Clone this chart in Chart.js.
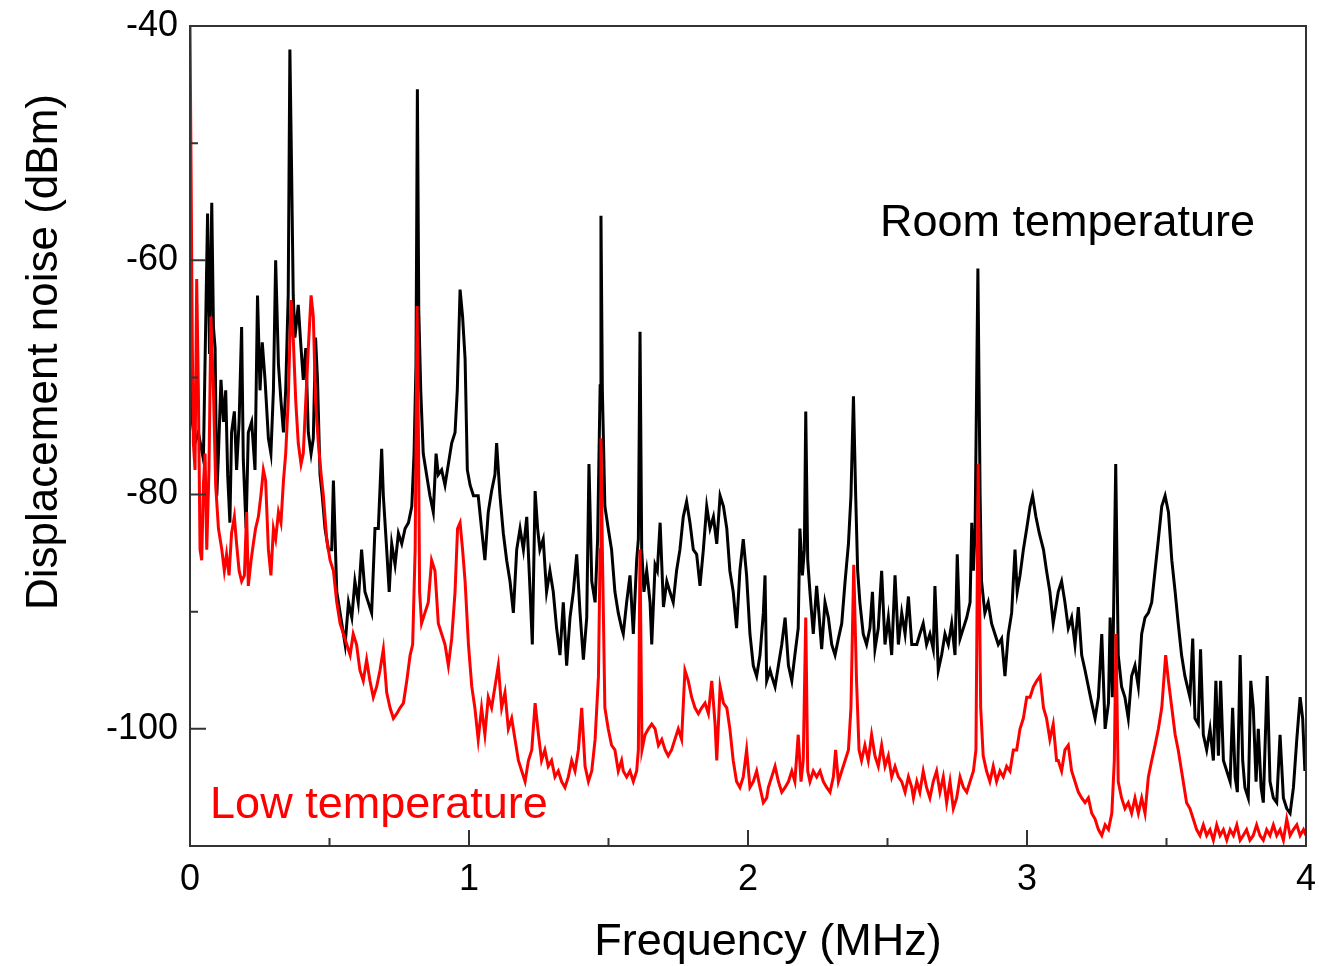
<!DOCTYPE html>
<html lang="en">
<head>
  <meta charset="UTF-8">
  <title>Displacement noise</title>
  <script src="https://cdn.jsdelivr.net/npm/chart.js"></script>
  <style>
    html, body { margin: 0; padding: 0; background: #fff; }
    #wrap { width: 1319px; height: 966px; }
  </style>
</head>
<body>
  <div id="wrap"><canvas id="noiseChart"></canvas></div>

  <script>
    // tick labels
    const xTicks = [0, 1, 2, 3, 4];
    const xMinorTicks = [0.5, 1.5, 2.5, 3.5];
    const yTicks = [-100, -80, -60, -40];
    const yMinorTicks = [-110, -90, -70, -50];

    // room temperature trace (MHz / dBm)
    const roomFreq = [
      0.000,0.006,0.018,0.030,0.048,0.063,0.070,0.078,0.084,0.090,0.096,0.102,0.111,0.120,0.128,0.135,0.143,0.149,0.159,0.167,
      0.176,0.185,0.191,0.201,0.209,0.221,0.233,0.242,0.251,0.259,0.269,0.281,0.290,0.299,0.307,0.317,0.326,0.335,0.343,0.352,
      0.358,0.364,0.370,0.376,0.388,0.398,0.406,0.415,0.424,0.434,0.442,0.450,0.457,0.466,0.474,0.484,0.496,
      0.508,0.514,0.526,0.544,0.556,0.568,0.580,0.591,0.603,0.615,0.627,0.639,0.651,0.663,0.675,0.687,0.693,0.705,0.714,0.723,
      0.735,0.747,0.759,0.771,0.783,0.795,0.803,0.810,0.815,0.820,0.827,0.836,0.848,0.860,0.872,0.882,0.890,0.902,0.914,0.926,
      0.938,0.950,0.958,0.968,0.977,0.986,0.994,1.004,1.016,
      1.033,1.045,1.057,1.069,1.081,1.093,1.099,1.111,1.123,1.135,1.147,1.159,1.171,1.183,1.195,1.207,1.219,1.227,1.237,1.246,
      1.254,1.266,1.278,1.290,1.302,1.314,1.326,1.338,1.350,1.362,1.374,1.386,1.398,1.410,1.422,1.430,1.440,1.452,1.461,1.470,
      1.473,1.478,1.487,1.499,1.511,1.523,1.535,1.547,
      1.553,1.565,1.577,1.589,1.601,1.607,1.613,1.619,1.627,1.637,1.649,1.655,1.667,1.675,1.685,1.697,1.709,1.720,1.732,1.744,
      1.756,1.768,1.780,1.792,1.804,1.816,1.828,1.840,1.852,1.864,1.876,1.888,1.900,1.912,1.924,1.935,1.947,1.959,1.971,1.983,
      1.995,2.007,2.019,2.031,2.043,2.055,2.061,2.067,
      2.079,2.085,2.097,2.109,2.121,2.133,2.145,2.157,2.168,2.180,2.186,2.195,2.202,2.207,2.214,2.222,2.234,2.246,2.254,2.264,
      2.276,2.288,2.300,2.312,2.324,2.336,2.348,2.360,2.369,2.378,2.386,2.393,2.401,2.413,2.425,2.437,2.446,2.455,2.467,2.479,
      2.491,2.503,2.515,2.527,2.539,2.551,2.563,2.575,2.587,
      2.605,2.616,2.628,2.640,2.652,2.664,2.670,2.682,2.694,2.706,2.718,2.730,2.742,2.750,2.760,2.772,2.784,2.796,2.802,2.808,
      2.814,2.824,2.832,2.837,2.849,2.861,2.873,2.885,2.897,2.909,2.921,2.933,2.945,2.957,2.965,2.975,2.987,2.999,3.011,3.020,
      3.032,3.044,3.059,3.070,3.082,3.094,3.106,
      3.112,3.124,3.136,3.148,3.160,3.172,3.184,3.196,3.208,3.220,3.232,3.244,3.256,3.268,3.280,3.292,3.298,3.306,3.318,3.327,
      3.339,3.351,3.363,3.375,3.387,3.399,3.411,3.423,3.435,3.447,3.459,3.471,3.483,3.495,3.507,3.519,3.531,3.542,3.554,
      3.566,3.584,3.594,3.602,3.614,3.622,3.632,3.644,3.656,3.668,3.677,3.686,3.694,3.704,3.716,3.728,3.737,3.746,3.754,3.764,
      3.773,3.781,3.793,3.802,3.811,3.821,3.829,3.839,3.847,3.861,3.871,3.883,3.895,3.907,3.919,3.931,3.943,3.955,3.967,3.979,
      3.988,3.996,4.000
    ];
    const roomTemp = [
      -58,-73.4,-75.6,-74.7,-77.0,-56.0,-68.0,-55.1,-65.7,-67.5,-80.1,-76.5,-70.2,-73.8,-71.1,-78.3,-82.4,-74.7,-72.9,-77.9,
      -73.8,-65.7,-77.0,-82.9,-74.7,-73.8,-77.9,-63.0,-71.1,-67.0,-70.2,-75.2,-76.5,-71.1,-60.0,-68.9,-72.0,-74.7,-71.1,-63.0,
      -42.0,-52.1,-63.0,-66.6,-63.8,-67.5,-70.2,-67.5,-74.7,-76.5,-75.2,-66.6,-70.2,-78.3,-80.1,-82.9,-84.7,
      -84.7,-78.8,-88.3,-91.0,-92.8,-89.2,-90.5,-87.4,-89.2,-84.7,-88.3,-89.2,-90.1,-82.9,-82.9,-76.1,-80.1,-84.7,-88.3,-84.2,
      -86.0,-83.3,-84.2,-82.9,-82.4,-81.0,-76.5,-68.9,-45.4,-64.3,-71.1,-76.5,-78.3,-80.1,-81.5,-76.5,-78.3,-77.9,-79.2,-77.4,
      -75.6,-74.7,-71.1,-62.5,-64.8,-68.4,-77.9,-79.2,-80.1,
      -80.1,-82.9,-85.6,-81.5,-79.7,-78.3,-75.6,-80.1,-83.3,-85.6,-87.4,-90.1,-84.7,-82.9,-84.7,-81.9,-88.3,-92.8,-79.7,-82.9,
      -84.7,-83.8,-88.3,-86.5,-88.3,-91.4,-93.7,-89.2,-94.6,-90.5,-88.3,-85.1,-90.1,-94.1,-90.5,-77.4,-87.4,-89.2,-83.8,-70.7,
      -56.2,-71.1,-81.0,-82.9,-84.7,-88.3,-90.1,-91.4,
      -91.9,-89.2,-86.9,-91.9,-85.6,-83.8,-66.1,-84.7,-88.3,-86.5,-89.2,-92.8,-86.0,-86.5,-82.4,-89.6,-87.4,-88.3,-89.2,-86.5,
      -84.7,-81.9,-80.6,-82.4,-84.7,-85.1,-87.8,-84.7,-81.0,-82.9,-81.9,-84.2,-80.1,-81.0,-82.9,-86.5,-88.3,-91.4,-86.5,-83.8,
      -86.9,-91.9,-94.6,-95.5,-93.7,-90.1,-86.9,-95.9,
      -95.0,-95.5,-96.4,-94.6,-92.8,-90.5,-94.6,-95.9,-93.7,-91.4,-82.9,-86.9,-84.7,-72.9,-85.6,-88.3,-91.9,-87.8,-90.1,-93.2,
      -89.2,-90.5,-92.8,-93.7,-92.3,-91.0,-87.4,-84.2,-80.1,-71.6,-80.1,-86.5,-89.2,-91.9,-92.8,-91.4,-88.3,-93.2,-91.4,-86.5,
      -92.8,-90.5,-93.7,-86.9,-92.8,-90.1,-91.9,-88.7,-92.8,
      -92.8,-91.9,-91.0,-92.8,-91.9,-93.2,-87.8,-95.0,-93.7,-91.9,-92.8,-91.0,-93.7,-85.1,-92.3,-91.4,-90.5,-89.2,-82.4,-86.5,
      -82.9,-60.7,-80.1,-87.4,-90.1,-89.2,-91.0,-91.9,-92.8,-92.3,-95.5,-91.9,-90.1,-84.7,-88.3,-86.9,-84.7,-82.9,-81.0,-80.1,
      -81.9,-83.3,-84.7,-86.5,-88.3,-91.0,-89.2,
      -88.3,-87.4,-89.2,-91.4,-90.5,-92.8,-89.6,-93.7,-95.0,-96.4,-97.8,-99.1,-97.3,-91.9,-100.0,-97.8,-90.5,-97.3,-77.4,-93.7,
      -96.4,-97.3,-99.1,-95.5,-94.6,-96.4,-91.9,-90.5,-90.1,-89.2,-86.5,-83.8,-81.0,-80.1,-81.5,-85.6,-88.3,-91.0,-93.7,
      -95.5,-97.3,-92.3,-99.1,-99.6,-93.2,-100.5,-101.8,-100.0,-102.7,-95.9,-102.3,-95.9,-102.7,-103.6,-104.5,-98.2,-104.1,-105.4,-93.7,
      -102.7,-105.0,-105.9,-95.9,-98.2,-104.5,-100.0,-105.0,-106.3,-95.5,-104.5,-105.9,-106.3,-100.5,-105.9,-106.8,-107.2,-105.0,-100.9,-97.3,
      -99.1,-103.6,-101.8
    ];

    // low temperature trace (MHz / dBm)
    const lowFreq = [
      0.000,0.004,0.008,0.012,0.018,0.024,0.030,0.036,0.042,0.048,0.054,0.060,0.068,0.075,0.084,0.092,0.102,0.114,0.123,0.131,
      0.140,0.149,0.159,0.167,0.176,0.185,0.195,0.203,0.209,0.219,0.227,0.235,0.245,0.254,0.263,0.271,0.281,0.290,0.299,0.307,
      0.317,0.326,0.335,0.343,0.352,0.362,0.370,0.379,0.388,0.398,0.406,0.415,0.424,0.434,0.442,0.450,0.460,0.470,0.478,0.490,
      0.502,
      0.514,0.526,0.538,0.550,0.562,0.574,0.585,0.597,0.609,0.621,0.633,0.645,0.657,0.669,0.681,0.693,0.705,0.717,0.729,0.741,
      0.753,0.765,0.777,0.789,0.798,0.807,0.814,0.819,0.823,0.830,0.842,0.854,0.866,0.878,0.890,0.902,0.914,0.926,0.938,0.950,
      0.959,0.968,0.977,0.986,0.998,1.010,1.021,
      1.033,1.045,1.057,1.069,1.081,1.093,1.105,1.117,1.129,1.141,1.153,1.165,1.177,1.189,1.201,1.213,1.225,1.237,1.249,1.260,
      1.272,1.284,1.296,1.308,1.320,1.332,1.344,1.356,1.368,1.380,1.392,1.404,1.416,1.428,1.440,1.452,1.464,1.470,1.473,1.478,
      1.487,1.499,1.511,1.523,1.535,1.547,
      1.553,1.565,1.577,1.589,1.601,1.607,1.613,1.620,1.631,1.643,1.655,1.667,1.679,1.691,1.703,1.714,1.726,1.738,1.750,1.762,
      1.774,1.786,1.798,1.810,1.822,1.834,1.846,1.858,1.870,1.882,1.888,1.900,1.912,1.924,1.935,1.947,1.959,1.971,1.983,1.995,
      2.007,2.019,2.031,2.043,2.055,2.067,
      2.073,2.085,2.097,2.109,2.121,2.133,2.145,2.157,2.168,2.180,2.190,2.198,2.207,2.214,2.222,2.234,2.246,2.258,2.270,2.282,
      2.294,2.306,2.314,2.324,2.336,2.348,2.360,2.369,2.379,2.389,2.398,2.407,2.419,2.431,2.443,2.455,2.467,2.479,2.491,2.503,
      2.515,2.527,2.539,2.551,2.563,2.575,2.587,
      2.593,2.605,2.616,2.628,2.640,2.652,2.664,2.676,2.688,2.700,2.712,2.724,2.736,2.748,2.760,2.772,2.784,2.796,2.808,2.817,
      2.825,2.834,2.843,2.855,2.867,2.879,2.891,2.903,2.915,2.927,2.939,2.951,2.963,2.975,2.987,2.999,3.011,3.023,3.035,3.047,
      3.059,3.070,3.082,3.094,3.106,
      3.112,3.124,3.136,3.148,3.160,3.172,3.184,3.196,3.208,3.220,3.232,3.244,3.256,3.268,3.280,3.292,3.304,3.313,3.319,3.327,
      3.339,3.351,3.363,3.375,3.387,3.399,3.411,3.423,3.435,3.447,3.459,3.471,3.483,3.497,3.507,3.519,3.531,3.542,3.554,
      3.572,3.584,3.596,3.608,3.620,3.632,3.644,3.656,3.668,3.680,3.692,3.704,3.716,3.728,3.740,3.752,3.764,3.775,3.787,3.799,
      3.811,3.823,3.835,3.847,3.859,3.871,3.883,3.895,3.907,3.919,3.931,3.943,3.955,3.967,3.979,3.991,4.000
    ];
    const lowTemp = [
      -40,-53.0,-66.6,-75.6,-77.9,-61.6,-71.1,-84.7,-85.6,-79.2,-76.5,-84.7,-77.9,-64.8,-71.1,-79.2,-82.9,-84.7,-86.5,-85.1,
      -86.9,-83.3,-81.9,-84.2,-86.5,-87.4,-86.9,-81.5,-87.8,-85.6,-84.2,-82.9,-81.9,-80.1,-77.9,-78.8,-84.7,-86.9,-82.9,-83.8,
      -81.5,-82.4,-78.8,-76.5,-72.0,-63.4,-66.6,-72.0,-75.6,-77.4,-76.5,-72.0,-67.5,-63.0,-64.8,-72.0,-75.6,-78.3,-80.1,-83.8,
      -85.6,
      -86.5,-89.2,-91.0,-91.9,-92.8,-93.7,-91.9,-92.8,-95.0,-95.9,-94.1,-95.9,-97.3,-96.4,-95.0,-93.2,-96.9,-98.2,-99.1,-98.7,
      -98.2,-97.8,-95.9,-93.7,-92.8,-84.7,-63.9,-75.6,-88.3,-91.0,-90.1,-89.2,-85.6,-86.5,-91.0,-91.9,-92.8,-94.6,-92.3,-88.3,
      -82.9,-82.4,-84.7,-87.4,-92.8,-96.4,-98.2,
      -100.9,-98.2,-100.5,-97.3,-98.2,-96.4,-94.6,-98.2,-96.9,-100.0,-99.1,-100.9,-102.7,-103.6,-104.5,-102.7,-101.8,-97.8,-100.5,-102.7,
      -101.8,-103.2,-102.7,-104.1,-103.6,-104.5,-105.0,-104.1,-102.7,-103.6,-101.8,-98.2,-103.2,-104.5,-103.6,-100.9,-95.5,-84.7,-75.2,-84.7,
      -98.2,-100.0,-101.4,-101.8,-103.6,-102.7,
      -103.6,-104.1,-103.6,-104.5,-103.6,-101.8,-84.7,-101.8,-100.5,-100.0,-99.6,-100.0,-101.4,-100.9,-101.8,-102.3,-101.8,-100.9,-100.0,-100.9,
      -95.0,-95.9,-97.3,-98.2,-98.7,-98.2,-97.8,-98.7,-95.9,-99.6,-102.7,-96.4,-97.8,-98.2,-100.0,-102.7,-104.5,-105.0,-104.1,-101.8,
      -105.0,-104.5,-103.6,-105.0,-106.3,-105.9,
      -105.0,-104.1,-103.2,-104.5,-105.4,-105.0,-104.5,-103.6,-104.5,-100.5,-104.5,-102.7,-90.5,-103.6,-104.5,-103.6,-104.1,-103.6,-104.5,-105.0,
      -105.4,-104.1,-101.8,-104.5,-103.6,-102.7,-101.8,-98.2,-86.0,-95.9,-101.8,-102.7,-101.4,-102.7,-100.5,-102.3,-103.2,-101.4,-103.2,-102.3,
      -104.1,-103.2,-104.1,-104.5,-105.4,-104.1,-105.0,
      -105.9,-104.5,-105.4,-103.6,-105.0,-105.9,-104.5,-103.6,-105.4,-104.1,-106.3,-104.5,-106.8,-105.9,-104.1,-105.0,-105.4,-104.5,-103.6,-101.8,
      -77.4,-98.2,-102.3,-103.6,-104.5,-103.2,-104.5,-103.6,-104.1,-103.2,-103.6,-101.8,-101.8,-100.0,-99.1,-97.3,-97.3,-96.4,-95.9,-95.5,
      -98.2,-99.1,-100.9,-99.6,-102.7,
      -102.7,-103.6,-101.8,-101.4,-103.6,-104.5,-105.4,-105.9,-106.3,-105.9,-107.2,-107.7,-108.6,-109.1,-108.2,-108.6,-107.2,-102.7,-91.9,-104.5,
      -105.9,-106.8,-106.3,-107.2,-105.9,-107.2,-105.9,-107.2,-104.1,-102.7,-101.4,-100.0,-98.2,-93.7,-95.9,-98.2,-100.5,-101.8,-103.6,
      -106.3,-106.8,-107.7,-108.6,-109.1,-108.2,-109.1,-108.6,-109.5,-108.2,-109.1,-108.6,-109.5,-108.6,-109.1,-108.2,-109.5,-109.1,-108.6,-109.5,
      -109.1,-108.2,-109.1,-109.5,-108.6,-109.1,-108.2,-109.1,-108.6,-109.5,-107.7,-109.1,-108.6,-108.2,-109.1,-108.6,-109.1
    ];

    const FONT = '"Liberation Sans", Arial, sans-serif';
    Chart.defaults.font.family = FONT;
    Chart.defaults.color = '#000';

    // frame, inward ticks, axis titles and the two curve labels
    const decorations = {
      id: 'decorations',
      afterDraw(chart) {
        const { ctx, chartArea: a, scales: { x, y } } = chart;
        ctx.save();

        ctx.strokeStyle = '#333';
        ctx.lineWidth = 2;
        ctx.strokeRect(a.left, a.top, a.right - a.left, a.bottom - a.top);

        ctx.beginPath();
        yTicks.forEach(v => { const p = y.getPixelForValue(v); ctx.moveTo(a.left, p); ctx.lineTo(a.left + 16, p); });
        yMinorTicks.forEach(v => { const p = y.getPixelForValue(v); ctx.moveTo(a.left, p); ctx.lineTo(a.left + 8, p); });
        xTicks.forEach(v => { const p = x.getPixelForValue(v); ctx.moveTo(p, a.bottom); ctx.lineTo(p, a.bottom - 16); });
        xMinorTicks.forEach(v => { const p = x.getPixelForValue(v); ctx.moveTo(p, a.bottom); ctx.lineTo(p, a.bottom - 8); });
        ctx.stroke();

        ctx.font = '45px ' + FONT;
        ctx.textBaseline = 'alphabetic';
        ctx.textAlign = 'left';
        ctx.fillStyle = '#000';
        ctx.fillText('Room temperature', x.getPixelForValue(2.473), y.getPixelForValue(-57.9));
        ctx.fillStyle = '#ff0000';
        ctx.fillText('Low temperature', x.getPixelForValue(0.072), y.getPixelForValue(-107.6));

        ctx.fillStyle = '#000';
        ctx.textAlign = 'center';
        ctx.fillText('Frequency (MHz)', (a.left + a.right) / 2 + 20, a.bottom + 109);

        ctx.font = '44px ' + FONT;
        ctx.translate(a.left - 133, (a.top + a.bottom) / 2 - 84);
        ctx.rotate(-Math.PI / 2);
        ctx.fillText('Displacement noise (dBm)', 0, 0);
        ctx.restore();
      }
    };

    function drawChart() {
      const room = roomFreq.map((f, i) => ({ x: f, y: roomTemp[i] }));
      const low = lowFreq.map((f, i) => ({ x: f, y: lowTemp[i] }));

      const ctx = document.getElementById('noiseChart').getContext('2d');
      new Chart(ctx, {
        type: 'line',
        data: {
          datasets: [
            {
              label: 'Room temperature',
              data: room,
              borderColor: '#000000',
              borderWidth: 3,
              pointRadius: 0,
              fill: false,
              order: 2
            },
            {
              label: 'Low temperature',
              data: low,
              borderColor: '#ff0000',
              borderWidth: 3,
              pointRadius: 0,
              fill: false,
              order: 1
            }
          ]
        },
        options: {
          responsive: true,
          maintainAspectRatio: false,
          animation: false,
          layout: { padding: { top: 26, right: 13, left: 0, bottom: 0 } },
          plugins: { legend: { display: false }, tooltip: { enabled: false } },
          elements: { line: { tension: 0, borderJoinStyle: 'miter' } },
          scales: {
            x: {
              type: 'linear',
              min: 0,
              max: 4,
              grid: { display: false, drawTicks: false },
              border: { display: false },
              ticks: { font: { size: 36 }, padding: 12, maxRotation: 0 },
              afterBuildTicks: s => { s.ticks = xTicks.map(v => ({ value: v })); },
              afterFit: s => { s.height = 120; s.paddingLeft = 0; s.paddingRight = 0; }
            },
            y: {
              min: -110,
              max: -40,
              grid: { display: false, drawTicks: false },
              border: { display: false },
              ticks: { font: { size: 36 }, padding: 12 },
              afterBuildTicks: s => { s.ticks = yTicks.map(v => ({ value: v })); },
              afterFit: s => { s.width = 190; s.paddingTop = 0; s.paddingBottom = 0; }
            }
          }
        },
        plugins: [decorations]
      });
    }

    drawChart();
  </script>
</body>
</html>
